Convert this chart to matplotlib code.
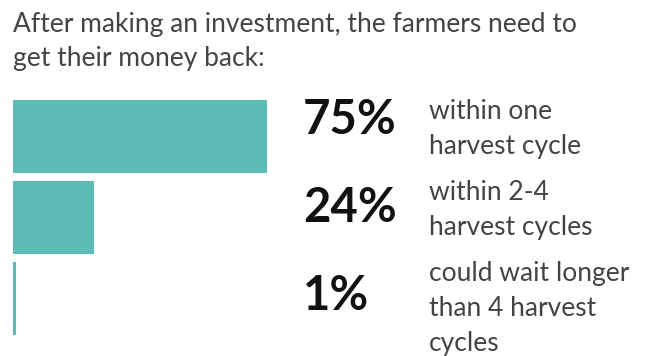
import matplotlib
matplotlib.use("Agg")
import matplotlib.pyplot as plt

# data
shares = [75, 24, 1]
pct_labels = ["75%", "24%", "1%"]
descriptions = [
    "within one\nharvest cycle",
    "within 2-4\nharvest cycles",
    "could wait longer\nthan 4 harvest\ncycles",
]
title = "After making an investment, the farmers need to\nget their money back:"

W, H = 646, 356
teal = "#5bbdb5"
grey = "#444444"

plt.rcParams["font.family"] = ["Lato", "DejaVu Sans"]

fig = plt.figure(figsize=(W / 100, H / 100), dpi=100)

# bar area in pixels: x 13..267 for 75%, y 100..335
ax = fig.add_axes([13 / W, 1 - 335 / H, 254 / W, 235 / H])
bar_h = 73 / 81
ax.barh(range(len(shares)), shares, height=bar_h, color=teal, left=0)
ax.set_xlim(0, max(shares))
ax.set_ylim(2 + bar_h / 2, -bar_h / 2)
ax.axis("off")

fig.text(13 / W, 1 - 12 / H, title, ha="left", va="top", fontsize=19,
         color=grey, linespacing=1.47)

# percent and description per bar, anchored to bar row
pct_offsets = [-16, -10, -3]
for i, (p, d) in enumerate(zip(pct_labels, descriptions)):
    ax.annotate(p, xy=(303 / W, i), xycoords=("figure fraction", "data"),
                xytext=(0, -pct_offsets[i] * 0.72), textcoords="offset points",
                ha="left", va="center", fontsize=34, fontweight="bold",
                color="#111111")
    ax.annotate(d, xy=(429 / W, i - bar_h / 2), xycoords=("figure fraction", "data"),
                xytext=(0, 0.5), textcoords="offset points",
                ha="left", va="top", fontsize=19, color=grey, linespacing=1.48)

fig.savefig("out.png", dpi=100)
